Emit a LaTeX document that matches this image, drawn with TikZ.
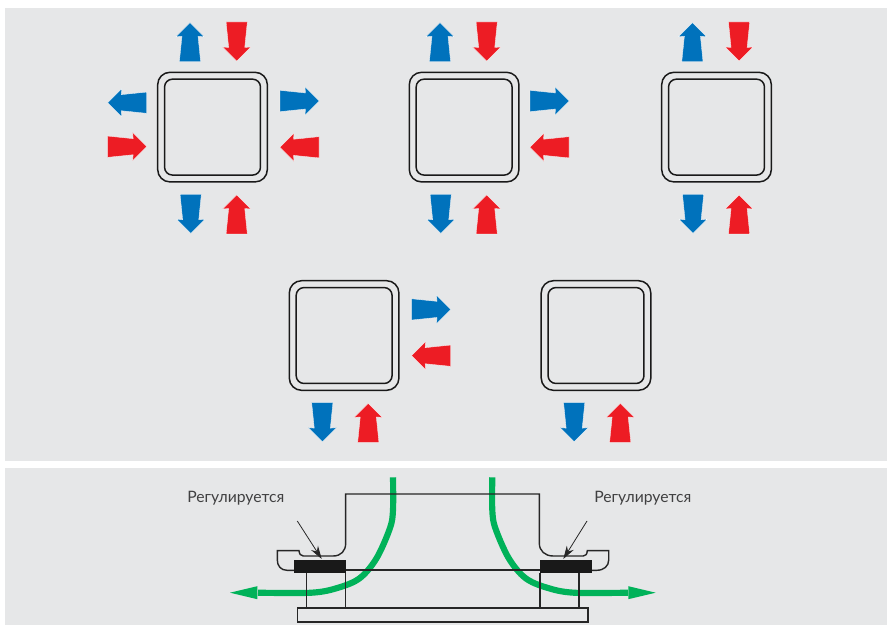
\documentclass[tikz,border=0pt]{standalone}
\usepackage{fontspec}
\setmainfont{Lato}
\definecolor{panelgray}{HTML}{E6E7E8}
\definecolor{flowblue}{HTML}{0072BC}
\definecolor{flowred}{HTML}{ED1C24}
\definecolor{flowgreen}{HTML}{00B259}
\definecolor{labelgray}{HTML}{404041}
\usetikzlibrary{arrows.meta}
\tikzset{
  panel/.style={fill=panelgray},
  ductouter/.style={draw=black!90,line width=0.85pt,rounded corners=7pt,minimum size=62.4pt,inner sep=0pt,outer sep=0pt,anchor=north west},
  ductinner/.style={draw=black!90,line width=0.85pt,rounded corners=4.5pt,minimum size=54.6pt,inner sep=0pt,outer sep=0pt},
  part/.style={draw=black!85,line width=0.8pt},
  block/.style={fill=black!90},
  airflow/.style={flowgreen,line width=3.5pt},
  airhead/.style={fill=flowgreen},
  pointer/.style={draw=black!85,line width=0.45pt,-{Stealth[length=7.5pt,width=4.6pt]}},
  regtext/.style={font=\fontsize{8.95pt}{10pt}\selectfont,text=labelgray,inner sep=0pt},
  flowarrow/.pic={
    \filldraw[fill=#1,draw=white,line width=0.15pt] (0,0)--(14,14)--(8,13.5)--(10.6,39)--(-10.6,39)--(-8,13.5)--(-14,14)--cycle;
  },
  flowtop/.pic={
    \pic at (32.3,-49.6) {flowarrow=flowblue};
    \pic[rotate=180] at (79,-11.3) {flowarrow=flowred};
  },
  flowbottom/.pic={
    \pic[rotate=180] at (33,161) {flowarrow=flowblue};
    \pic at (79,122.7) {flowarrow=flowred};
  },
  flowright/.pic={
    \pic[rotate=-90] at (161.3,28.7) {flowarrow=flowblue};
    \pic[rotate=90] at (122.3,75) {flowarrow=flowred};
  },
  flowleft/.pic={
    \pic[rotate=90] at (-50,30.4) {flowarrow=flowblue};
    \pic[rotate=-90] at (-11,74.4) {flowarrow=flowred};
  },
}
\begin{document}
\begin{tikzpicture}[x=0.02cm,y=-0.02cm]
  \useasboundingbox (0,0) rectangle (887,625);
  \fill[panel] (5,8) rectangle (887,461);
  \fill[panel] (5,468) rectangle (887,625);

  \foreach \n/\px/\py/\fx in {1/157.7/72.3/157.7,2/409.3/72.3/407.7,3/661.7/72.3/660.1,4/289.3/280.7/289.3,5/541.2/280.7/541.2}{
    \node[ductouter] (outer\n) at (\px,\py) {};
    \node[ductinner] (inner\n) at (outer\n.center) {};
    \pic at (\fx,\py) {flowbottom};
  }
  \foreach \fx/\py in {157.7/72.3,407.7/72.3,660.1/72.3}
    \pic at (\fx,\py) {flowtop};
  \foreach \fx/\py in {157.7/72.3,407.7/72.3,289.3/280.7}
    \pic at (\fx,\py) {flowright};
  \pic at (157.7,72.3) {flowleft};

  \draw[airflow] plot[smooth,tension=0.55] coordinates {(393,477.3) (393,510) (390,528) (376.7,558) (360,578) (338.3,587.7) (311.7,592.7) (258,592.7)};
  \fill[airhead] (257.3,586.2)--(230,592.7)--(257.3,599.2)--cycle;
  \draw[airflow] plot[smooth,tension=0.55] coordinates {(492.3,477.3) (492.3,510) (495.3,528) (508.6,558) (525.3,578) (547,587.7) (573.6,592.7) (628,592.7)};
  \fill[airhead] (628.3,586.2)--(655.7,592.7)--(628.3,599.2)--cycle;

  \draw[part] (345.7,572.7)--(345.7,608);
  \draw[part] (306.7,572.7)--(306.7,608);
  \draw[part] (540,572.7)--(540,608);
  \draw[part] (579,572.7)--(579,608);
  \draw[part] (297.7,608) rectangle (588,622);
  \draw[part] (345.7,570)--(540,570);
  \draw[part] (294,570.3)--(287,570.3) .. controls (281,570.3) and (277.3,566) .. (277.3,560)--(277.3,550.7)--(299,550.7) .. controls (299.5,554) and (300.5,556) .. (303.3,556)--(333,556) .. controls (341,556) and (345.7,551) .. (345.7,543)--(345.7,494)--(539.3,494)--(539.3,543) .. controls (539.3,551) and (545,556) .. (553.3,556)--(583.3,556) .. controls (586,556) and (587,554) .. (587.3,550.7)--(608.7,550.7)--(608.7,560) .. controls (608.7,566) and (604,570.3) .. (596.7,570.3)--(592,570.3);
  \fill[block] (294,560) rectangle (345.7,572.7);
  \fill[block] (540,560) rectangle (592,572.7);

  \node[regtext,anchor=west] (regleft) at (187,498) {Регулируется};
  \node[regtext,anchor=west] (regright) at (594,498) {Регулируется};
  \coordinate (startleft) at (297.3,521);
  \coordinate (endleft) at (321.7,559);
  \coordinate (startright) at (587,521);
  \coordinate (endright) at (563.3,559);
  \draw[pointer] (startleft)--(endleft);
  \draw[pointer] (startright)--(endright);
\end{tikzpicture}
\end{document}
